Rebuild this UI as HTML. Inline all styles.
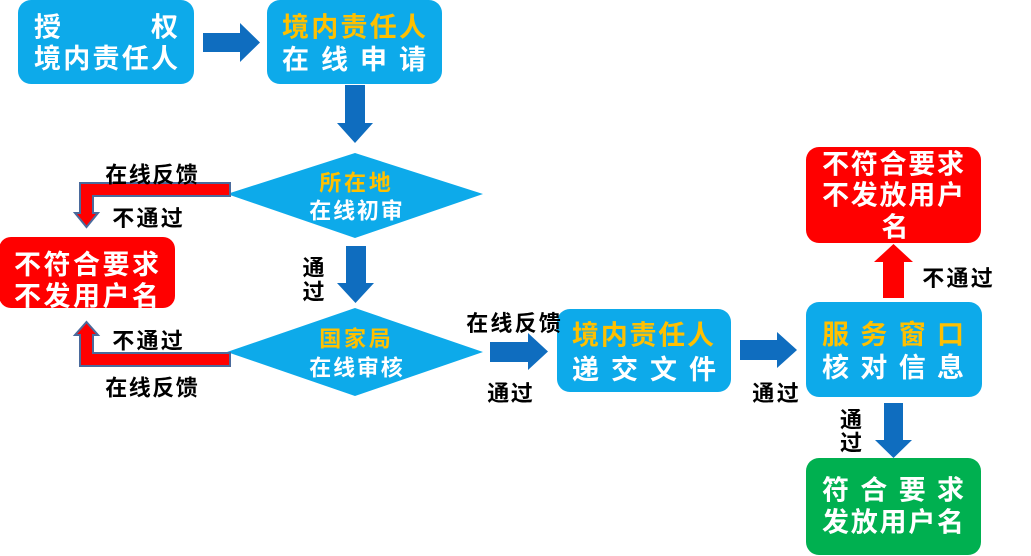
<!DOCTYPE html>
<html>
<head>
<meta charset="utf-8">
<style>
  html,body{margin:0;padding:0;background:#ffffff;}
  svg{display:block;}
  text{font-family:"Liberation Sans","Noto Sans CJK SC",sans-serif;font-weight:bold;}
  .bx{font-size:27px;}
  .dm{font-size:22px;}
  .lb{font-size:22px;fill:#000;}
  .w{fill:#ffffff;}
  .y{fill:#FFC000;}
</style>
</head>
<body>
<svg width="1031" height="556" viewBox="0 0 1031 556" xmlns="http://www.w3.org/2000/svg">
  <rect x="0" y="0" width="1031" height="556" fill="#ffffff"/>

  <!-- Boxes -->
  <rect x="18" y="0" width="176" height="84" rx="13" fill="#0DAAEA"/>
  <rect x="267" y="0" width="175" height="84" rx="13" fill="#0DAAEA"/>
  <rect x="557" y="309" width="174" height="83" rx="13" fill="#0DAAEA"/>
  <rect x="806" y="302" width="176" height="95" rx="13" fill="#0DAAEA"/>
  <rect x="806" y="147" width="175" height="96" rx="13" fill="#FF0000"/>
  <rect x="806" y="458" width="175" height="97" rx="13" fill="#00B050"/>
  <rect x="-1" y="237" width="176" height="71" rx="12" fill="#FF0000"/>

  <!-- Diamonds -->
  <polygon points="355,153 483,194 355,238 227,194" fill="#0DAAEA"/>
  <polygon points="355,308 483,352 355,396 227,352" fill="#0DAAEA"/>

  <!-- Blue arrows -->
  <polygon points="203,33 240,33 240,23 260,42.5 240,62 240,52 203,52" fill="#0F6DBF"/>
  <polygon points="345,85 365,85 365,123 373,123 355,143 337,123 345,123" fill="#0F6DBF"/>
  <polygon points="346,246 366,246 366,283 374,283 355.5,303 337,283 346,283" fill="#0F6DBF"/>
  <polygon points="490,342 528,342 528,333 548,351.5 528,370 528,362 490,362" fill="#0F6DBF"/>
  <polygon points="740,340 777,340 777,332 797,350 777,368 777,360 740,360" fill="#0F6DBF"/>
  <polygon points="884,403 903,403 903,440 912,440 893.5,458 875,440 884,440" fill="#0F6DBF"/>

  <!-- Red up arrow -->
  <polygon points="893.5,244 913,262 904,262 904,298 883,298 883,262 874,262" fill="#FF0000"/>

  <!-- Red bent arrows -->
  <polygon points="230,183 80,183 80,213 75,213 86.5,227 98,213 93,213 93,196 230,196" fill="#FF0000" stroke="#4A6A9C" stroke-width="2" stroke-linejoin="miter"/>
  <polygon points="86.5,322 98,335 93,335 93,353 230,353 230,366 80,366 80,335 75,335" fill="#FF0000" stroke="#4A6A9C" stroke-width="2" stroke-linejoin="miter"/>

  <!-- Box1 text -->
  <text class="bx w" x="34 151" y="36.3">授权</text>
  <text class="bx w" x="34 63.25 92.5 121.75 151" y="67.8">境内责任人</text>

  <!-- Box2 text -->
  <text class="bx y" x="282 311.25 340.5 369.75 399" y="36.3">境内责任人</text>
  <text class="bx w" x="282 321 360 399" y="68.8">在线申请</text>

  <!-- Box3 text -->
  <text class="bx y" x="572 600.75 629.5 658.25 687" y="344.3">境内责任人</text>
  <text class="bx w" x="572 611 650 689" y="378.8">递交文件</text>

  <!-- Box4 text -->
  <text class="bx y" x="822 860.3 898.7 937" y="343.8">服务窗口</text>
  <text class="bx w" x="822 860.3 898.7 937" y="376.8">核对信息</text>

  <!-- Green box text -->
  <text class="bx w" x="822 860.3 898.7 937" y="499.3">符合要求</text>
  <text class="bx w" x="822 850.75 879.5 908.25 937" y="531.3">发放用户名</text>

  <!-- Red top-right text -->
  <text class="bx w" x="822 850.75 879.5 908.25 937" y="173.3">不符合要求</text>
  <text class="bx w" x="822 850.75 879.5 908.25 937" y="204.3">不发放用户</text>
  <text class="bx w" x="881.5" y="236.3">名</text>

  <!-- Red left text -->
  <text class="bx w" x="14 43.5 73 102.5 132" y="273.8">不符合要求</text>
  <text class="bx w" x="14 43.5 73 102.5 132" y="305.3">不发用户名</text>

  <!-- Diamond texts -->
  <text class="dm y" x="319.3 344 368.7" y="190.4">所在地</text>
  <text class="dm w" x="309.3 333.1 356.9 380.7" y="218.4">在线初审</text>
  <text class="dm y" x="319.3 344 368.7" y="346.4">国家局</text>
  <text class="dm w" x="309.3 333.1 356.9 380.7" y="375.4">在线审核</text>

  <!-- Labels -->
  <text class="lb" x="105.3 128.8 152.2 175.7" y="182.4">在线反馈</text>
  <text class="lb" x="112.3 136.5 160.7" y="225.9">不通过</text>
  <text class="lb" x="112.3 136.5 160.7" y="348.4">不通过</text>
  <text class="lb" x="105.3 128.8 152.2 175.7" y="395.4">在线反馈</text>

  <text class="lb" x="302.5" y="275.4">通</text>
  <text class="lb" x="302.5" y="299.4">过</text>

  <text class="lb" x="466.3 490.4 514.6 538.7" y="330.9">在线反馈</text>
  <text class="lb" x="487.3 510.7" y="400.9">通过</text>
  <text class="lb" x="752.3 776.7" y="400.9">通过</text>

  <text class="lb" x="922.3 946.5 970.7" y="285.9">不通过</text>
  <text class="lb" x="840" y="427.4">通</text>
  <text class="lb" x="840" y="450.4">过</text>
</svg>
</body>
</html>
